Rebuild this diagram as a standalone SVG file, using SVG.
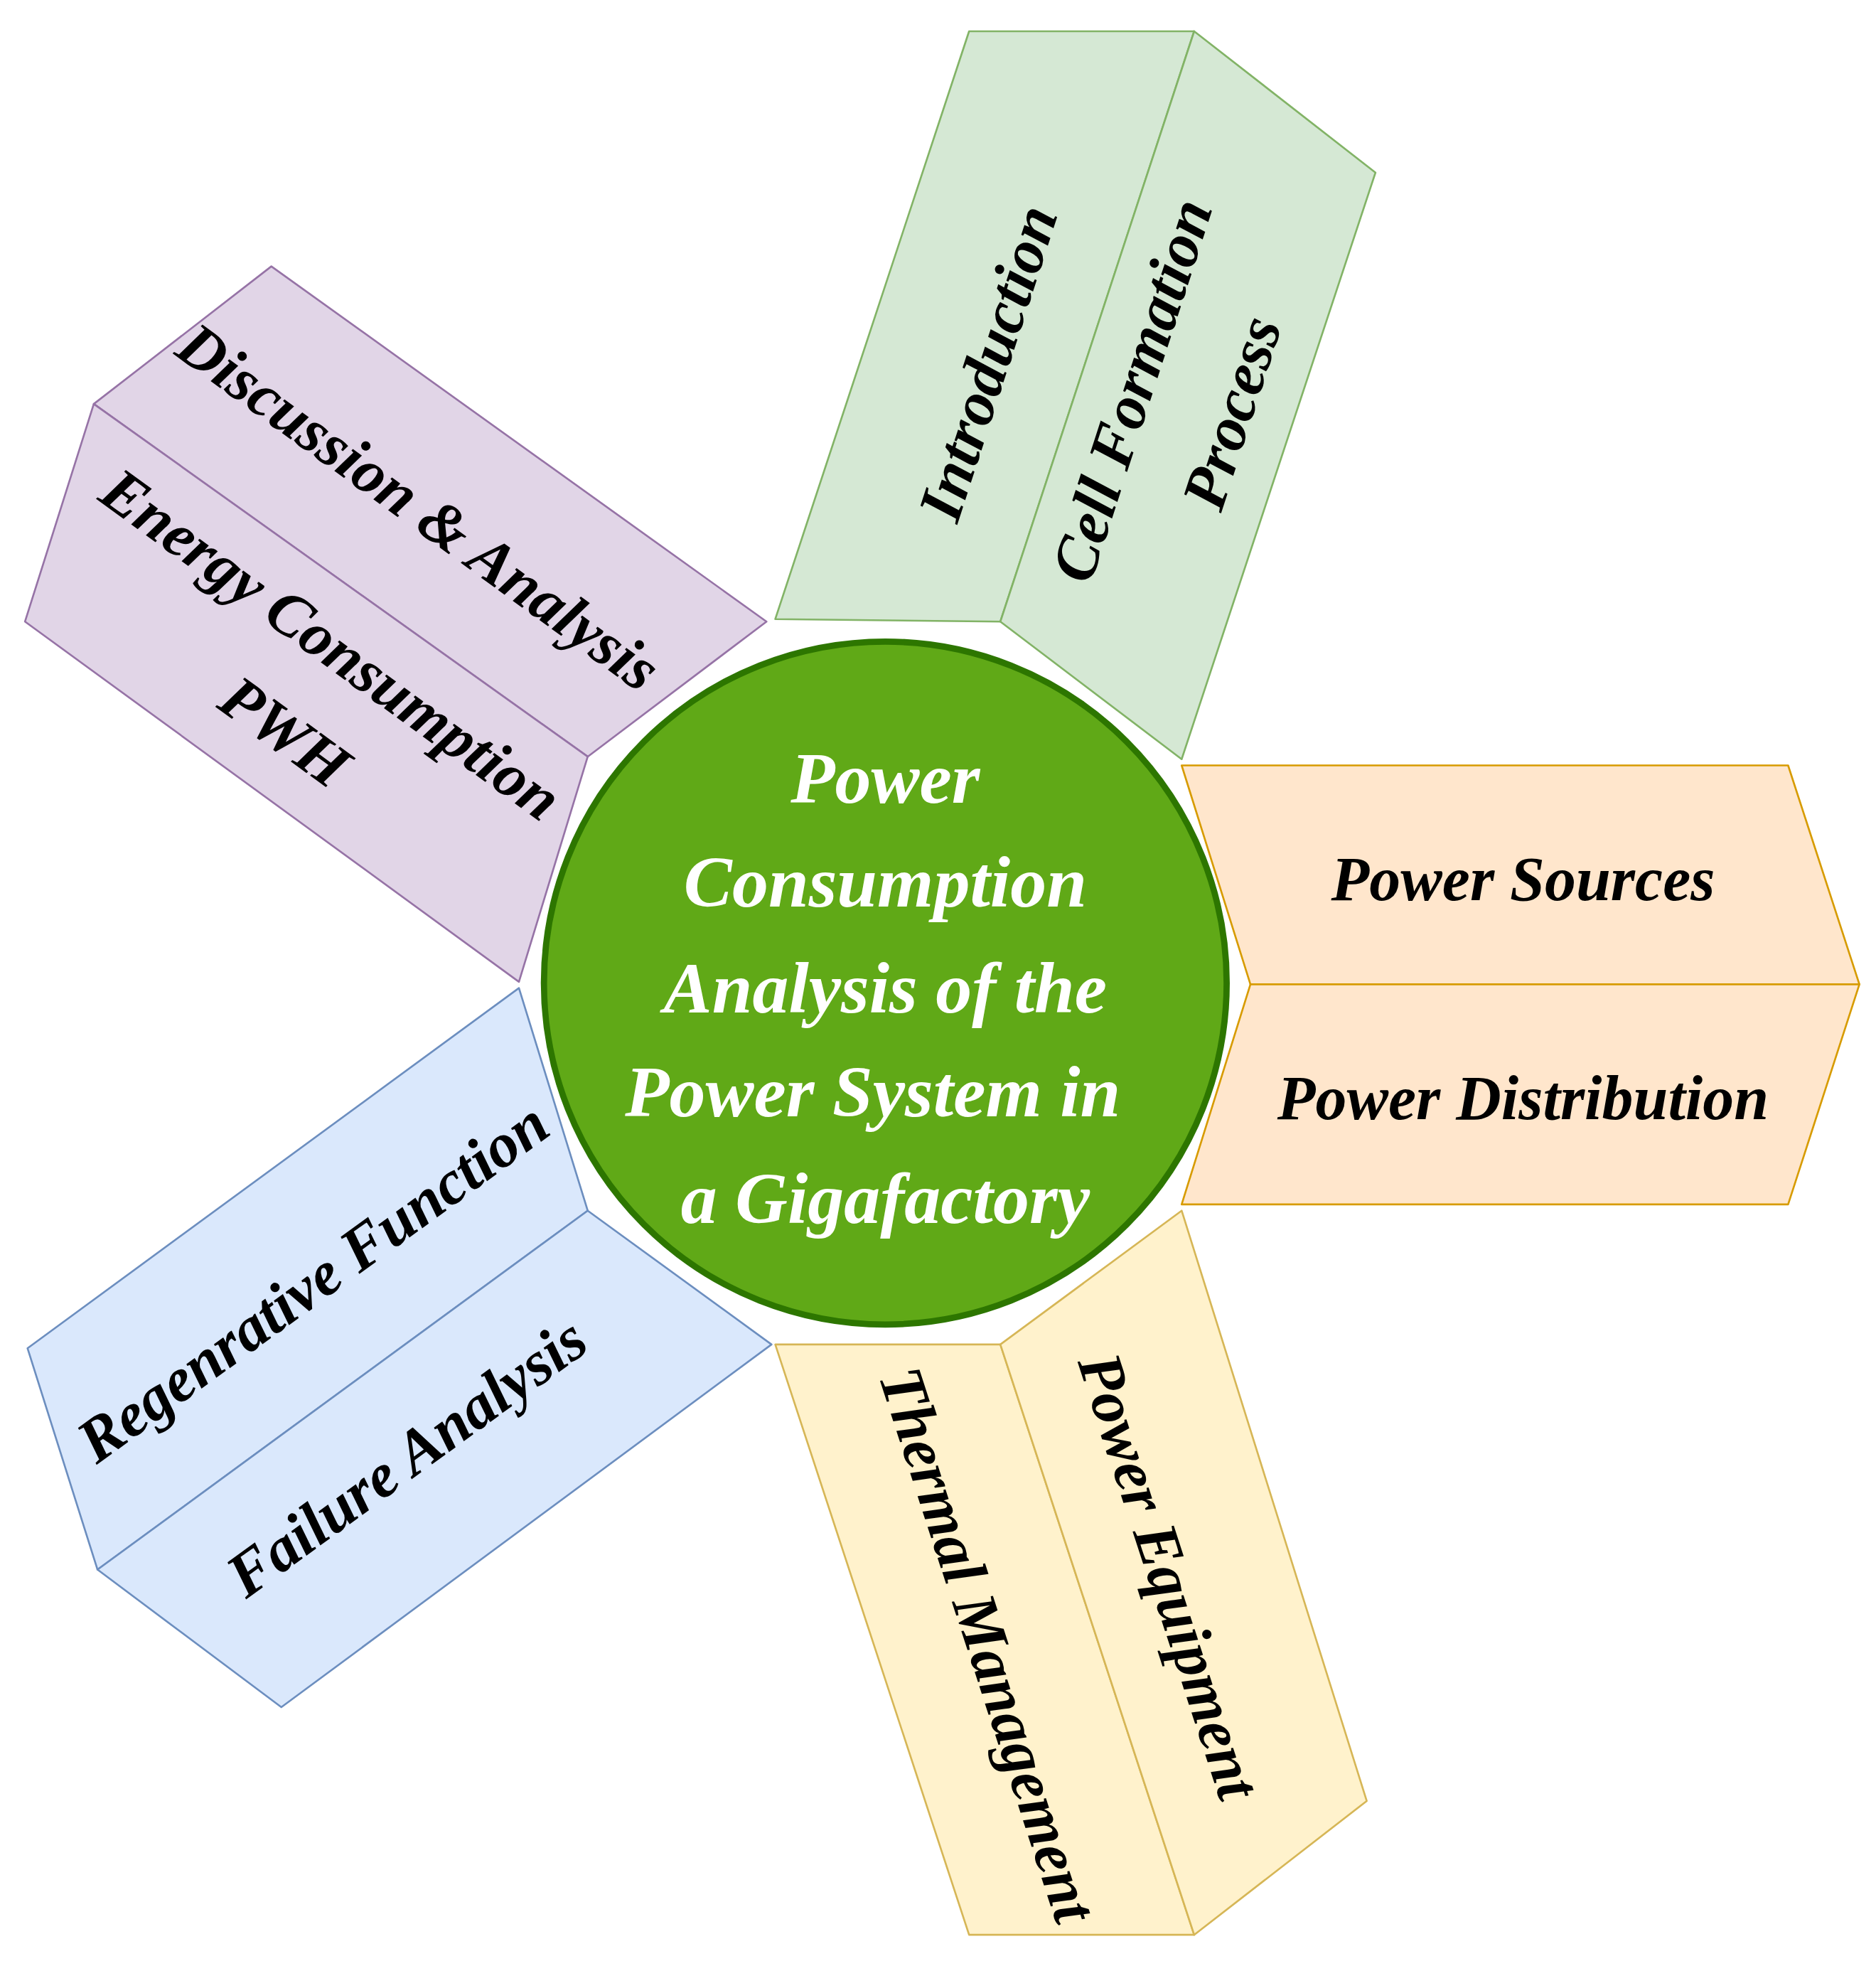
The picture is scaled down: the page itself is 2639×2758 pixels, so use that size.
<svg xmlns="http://www.w3.org/2000/svg" width="2639" height="2758" viewBox="0 0 2639 2758">
<style>
.t{font-family:"Liberation Serif","Times New Roman",serif;font-weight:bold;font-style:italic;font-size:50px;fill:#000;text-anchor:middle;dominant-baseline:central}
.c{font-family:"Liberation Serif","Times New Roman",serif;font-weight:bold;font-style:italic;font-size:58px;fill:#fff;text-anchor:middle;dominant-baseline:central}
.s{stroke-width:1.5;stroke-linejoin:round}
</style>
<rect width="2639" height="2758" fill="#fff"/>
<g transform="scale(1.759)">
<g id="green">
<polygon class="s" points="620,495 775,25 955,25 800,497" fill="#d5e8d4" stroke="#82b366"/>
<polygon class="s" points="955,25 1100,138 945,607 800,497" fill="#d5e8d4" stroke="#82b366"/>
<text class="t" transform="translate(790,290) rotate(-72)">Introduction</text>
<text class="t" transform="translate(905,312) rotate(-72)">Cell Formation</text>
<text class="t" transform="translate(985,330) rotate(-72)">Process</text>
</g>
<g id="orange">
<polygon class="s" points="945,612 1430,612 1487,787 1000,787" fill="#ffe6cc" stroke="#d79b00"/>
<polygon class="s" points="1000,787 1487,787 1430,963 945,963" fill="#ffe6cc" stroke="#d79b00"/>
<text class="t" x="1218" y="703">Power Sources</text>
<text class="t" x="1218" y="878">Power Distribution</text>
</g>
<g id="yellow">
<polygon class="s" points="620,1075 800,1075 955,1547 775,1547" fill="#fff2cc" stroke="#d6b656"/>
<polygon class="s" points="800,1075 945,968 1093,1440 955,1547" fill="#fff2cc" stroke="#d6b656"/>
<text class="t" transform="translate(790,1315) rotate(72)">Thermal Management</text>
<text class="t" transform="translate(935,1260) rotate(72)">Power Equipment</text>
</g>
<g id="blue">
<polygon class="s" points="22,1078 415,790 470,968 78,1255" fill="#dae8fc" stroke="#6c8ebf"/>
<polygon class="s" points="78,1255 470,968 617,1075 225,1365" fill="#dae8fc" stroke="#6c8ebf"/>
<text class="t" transform="translate(250,1025) rotate(-36)">Regenrative Function</text>
<text class="t" transform="translate(325,1165) rotate(-36)">Failure Analysis</text>
</g>
<g id="purple">
<polygon class="s" points="75,323 217,213 613,497 470,605" fill="#e1d5e7" stroke="#9673a6"/>
<polygon class="s" points="20,497 75,323 470,605 415,785" fill="#e1d5e7" stroke="#9673a6"/>
<text class="t" transform="translate(335,405) rotate(36)">Discussion &amp; Analysis</text>
<text class="t" transform="translate(265,515) rotate(36)">Energy Consumption</text>
<text class="t" transform="translate(228,585) rotate(36)">PWH</text>
</g>
<g id="center">
<circle cx="708" cy="786" r="273" fill="#60a917" stroke="#2d7600" stroke-width="5"/>
<text class="c" x="708" y="622">Power</text>
<text class="c" x="708" y="705">Consumption</text>
<text class="c" x="708" y="790">Analysis of the</text>
<text class="c" x="698" y="873">Power System in</text>
<text class="c" x="708" y="958">a Gigafactory</text>
</g>
<g id="connectors"/>
</g>
</svg>
